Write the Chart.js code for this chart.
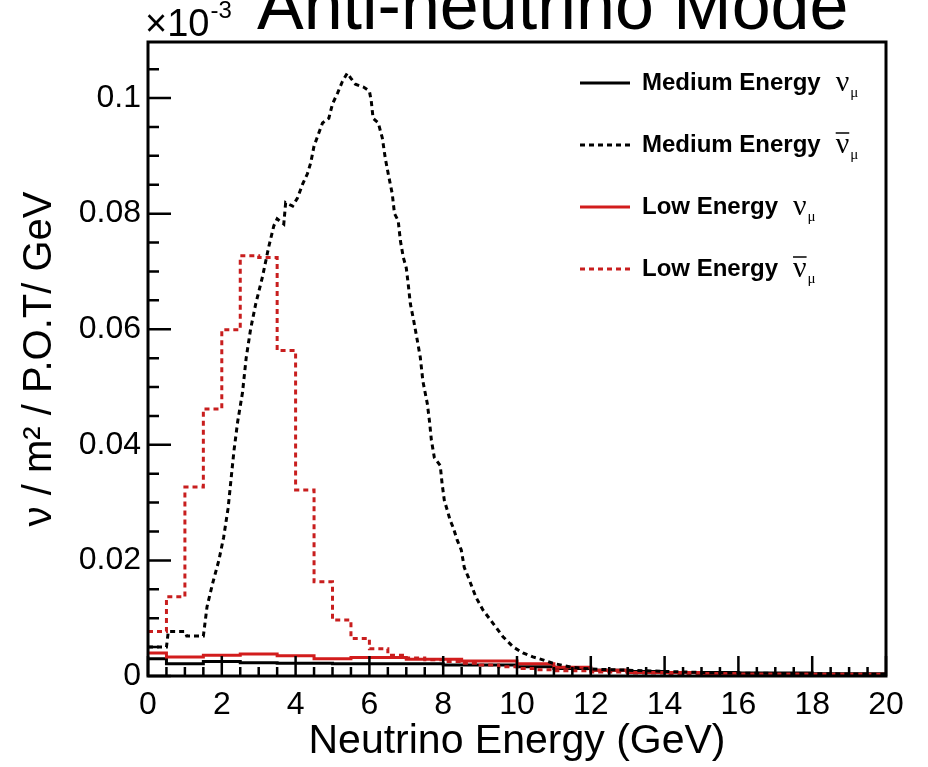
<!DOCTYPE html>
<html>
<head>
<meta charset="utf-8">
<script src="https://cdn.jsdelivr.net/npm/chart.js@4.4.1/dist/chart.umd.min.js"></script>
<style>
  html, body { margin: 0; padding: 0; background: #fff; }
  #wrap { width: 928px; height: 767px; }
</style>
</head>
<body>
<div id="wrap"><canvas id="flux"></canvas></div>
<script>
// flux anti-neutrino mode (unites de l'axe y)

// Medium Energy nu_mu (trait plein noir) - bords de bins + contenu
const meNuEdges = [0, 0.5, 1.5, 2.5, 3.5, 5, 8, 10, 11, 12, 13, 14, 16, 18, 20];
const meNuFlux  = [0.0030, 0.0021, 0.0025, 0.0023, 0.0022, 0.0021, 0.0019, 0.0016, 0.0013, 0.0010, 0.0008, 0.0006, 0.0005, 0.0004];

// Medium Energy anti-nu_mu (pointillé noir), bins fins -> suivi point par point
const meAntiE = [0, 0.5, 0.55, 1.0, 1.05, 1.5, 1.6, 1.75, 1.92, 2.05, 2.17, 2.25, 2.33, 2.43, 2.56, 2.66, 2.78, 2.92,
  3.1, 3.27, 3.41, 3.5, 3.68, 3.73, 3.92, 4.05, 4.19, 4.32, 4.41, 4.5, 4.62, 4.73, 4.9, 5.0, 5.14, 5.27, 5.4, 5.49,
  5.62, 5.84, 6.0, 6.05, 6.1, 6.24, 6.35, 6.43, 6.51, 6.62, 6.68, 6.78, 6.84, 6.92, 7.0, 7.05, 7.11, 7.2, 7.3, 7.38,
  7.45, 7.57, 7.63, 7.68, 7.76, 7.92, 7.97, 8.03, 8.11, 8.19, 8.27, 8.38, 8.49, 8.57, 8.68, 8.78, 8.89, 9.08, 9.35,
  9.62, 9.9, 10.16, 10.43, 10.7, 10.97, 11.5, 12, 13, 14, 15, 16, 18, 20];
const meAntiFlux = [0.0050, 0.0050, 0.0077, 0.0077, 0.0069, 0.0069, 0.0120, 0.0160, 0.0200, 0.0240, 0.0290, 0.0340, 0.0390, 0.0440, 0.0490, 0.0550, 0.0600, 0.0644,
  0.0690, 0.0742, 0.0779, 0.0791, 0.0782, 0.0819, 0.0813, 0.0827, 0.0851, 0.0869, 0.0888, 0.0917, 0.0938, 0.0957, 0.0965, 0.0990, 0.1009, 0.1029, 0.1043, 0.1035,
  0.1024, 0.1019, 0.1012, 0.0995, 0.0965, 0.0957, 0.0931, 0.0896, 0.0869, 0.0834, 0.0800, 0.0788, 0.0753, 0.0724, 0.0706, 0.0679, 0.0644, 0.0615, 0.0580, 0.0551,
  0.0510, 0.0471, 0.0440, 0.0408, 0.0378, 0.0364, 0.0333, 0.0304, 0.0287, 0.0269, 0.0257, 0.0235, 0.0218, 0.0188, 0.0171, 0.0154, 0.0136, 0.0114, 0.0091,
  0.0068, 0.0050, 0.0040, 0.0033, 0.0028, 0.0022, 0.0015, 0.0012, 0.0010, 0.0008, 0.0006, 0.0005, 0.0004, 0.0003];

// Low Energy nu_mu (trait plein rouge)
const leNuEdges = [0, 0.5, 1.5, 2.5, 3.5, 4.5, 5.5, 7, 8.5, 10, 11, 12, 13, 15, 16, 20];
const leNuFlux  = [0.0040, 0.0033, 0.0036, 0.0038, 0.0035, 0.0030, 0.0032, 0.0029, 0.0026, 0.0021, 0.0015, 0.0010, 0.0006, 0.0004, 0.0003];

// Low Energy anti-nu_mu (pointillé rouge), bins de 0.5 GeV
const leAntiEdges = [0, 0.5, 1, 1.5, 2, 2.5, 3, 3.5, 4, 4.5, 5, 5.5, 6, 6.5, 7, 7.5, 8, 8.5, 9, 9.5, 10, 10.5, 11, 12, 13, 14, 16, 18, 20];
const leAntiFlux  = [0.0077, 0.0137, 0.0327, 0.0462, 0.0599, 0.0727, 0.0724, 0.0563, 0.0322, 0.0163, 0.0097, 0.0065, 0.0047, 0.0036,
  0.0031, 0.0028, 0.0025, 0.0022, 0.0019, 0.0016, 0.0013, 0.0011, 0.0009, 0.0007, 0.0005, 0.0004, 0.0003, 0.0002];

const yTickValues = [0, 0.02, 0.04, 0.06, 0.08, 0.1];
const yTickLabels = ['0', '0.02', '0.04', '0.06', '0.08', '0.1'];

const FONT = "'Liberation Sans', Arial, Helvetica, sans-serif";
const RED = '#d21c1c';

// histogramme -> points en escalier (bord bas de chaque bin + bord final)
function histoPoints(edges, vals) {
  const pts = vals.map((v, i) => ({ x: edges[i], y: v }));
  pts.push({ x: edges[edges.length - 1], y: vals[vals.length - 1] });
  return pts;
}

// ticks façon ROOT, cadre, titre, légende
const rootDeco = {
  id: 'rootDeco',
  afterDatasetsDraw(chart) {
    const { ctx, chartArea: a, scales: { x, y } } = chart;
    ctx.save();
    ctx.strokeStyle = '#000';
    ctx.lineWidth = 2.5;
    ctx.beginPath();
    for (let v = 0; v <= 20.001; v += 0.5) {
      const px = x.getPixelForValue(v);
      const len = Math.abs(v % 2) < 1e-6 ? 20 : 9;
      ctx.moveTo(px, a.bottom);
      ctx.lineTo(px, a.bottom - len);
    }
    for (let v = 0; v <= 0.1095; v += 0.005) {
      const py = y.getPixelForValue(v);
      const major = Math.abs(v / 0.02 - Math.round(v / 0.02)) < 1e-6;
      ctx.moveTo(a.left, py);
      ctx.lineTo(a.left + (major ? 23 : 11), py);
    }
    ctx.stroke();
    ctx.lineWidth = 3;
    ctx.strokeRect(a.left, a.top, a.right - a.left, a.bottom - a.top);

    // exposant et titre
    ctx.fillStyle = '#000';
    ctx.textBaseline = 'alphabetic';
    ctx.textAlign = 'left';
    ctx.font = `38px ${FONT}`;
    ctx.fillText('\u00d710', 145, 36);
    const ew = ctx.measureText('\u00d710').width;
    ctx.font = `24px ${FONT}`;
    ctx.fillText('-3', 145 + ew + 1, 18);
    ctx.font = `70px ${FONT}`;
    ctx.fillText('Anti-neutrino Mode', 257, 29);

    // légende
    const items = chart.data.datasets.slice().sort((p, q) => p.legendRank - q.legendRank);
    items.forEach((ds, i) => {
      const ly = 83 + i * 62;
      ctx.strokeStyle = ds.borderColor;
      ctx.lineWidth = 3;
      ctx.setLineDash(ds.borderDash || []);
      ctx.beginPath();
      ctx.moveTo(580, ly);
      ctx.lineTo(630, ly);
      ctx.stroke();
      ctx.setLineDash([]);
      ctx.fillStyle = '#000';
      ctx.font = `bold 24px ${FONT}`;
      ctx.textBaseline = 'middle';
      ctx.fillText(ds.label, 642, ly);
      const nx = 642 + ctx.measureText(ds.label).width + 15;
      ctx.font = `30px 'Liberation Serif', 'DejaVu Serif', serif`;
      ctx.textBaseline = 'alphabetic';
      ctx.fillText('\u03bd', nx, ly + 8);
      const nw = ctx.measureText('\u03bd').width;
      if (ds.anti) {
        ctx.strokeStyle = '#000';
        ctx.lineWidth = 1.5;
        ctx.beginPath();
        ctx.moveTo(nx, ly - 12);
        ctx.lineTo(nx + nw, ly - 12);
        ctx.stroke();
      }
      ctx.font = `15px 'Liberation Serif', 'DejaVu Serif', serif`;
      ctx.fillText('\u03bc', nx + nw + 1, ly + 14);
    });
    ctx.restore();
  }
};

new Chart(document.getElementById('flux'), {
  type: 'line',
  data: {
    datasets: [
      {
        label: 'Medium Energy', anti: true, legendRank: 1, order: 0,
        data: meAntiE.map((e, i) => ({ x: e, y: meAntiFlux[i] })),
        borderColor: '#000', borderWidth: 3, borderDash: [5, 4],
        pointRadius: 0, fill: false, tension: 0,
      },
      {
        label: 'Low Energy', anti: true, legendRank: 3, order: 1,
        data: histoPoints(leAntiEdges, leAntiFlux), stepped: true,
        borderColor: '#c81e1e', borderWidth: 3, borderDash: [5, 4],
        pointRadius: 0, fill: false,
      },
      {
        label: 'Low Energy', anti: false, legendRank: 2, order: 2,
        data: histoPoints(leNuEdges, leNuFlux), stepped: true,
        borderColor: RED, borderWidth: 3,
        pointRadius: 0, fill: false,
      },
      {
        label: 'Medium Energy', anti: false, legendRank: 0, order: 3,
        data: histoPoints(meNuEdges, meNuFlux), stepped: true,
        borderColor: '#000', borderWidth: 3,
        pointRadius: 0, fill: false,
      },
    ],
  },
  options: {
    responsive: true,
    maintainAspectRatio: false,
    animation: false,
    layout: { padding: { top: 42, right: 42, left: 0, bottom: 0 } },
    plugins: {
      legend: { display: false },
      tooltip: { enabled: false },
    },
    scales: {
      x: {
        type: 'linear', min: 0, max: 20,
        grid: { display: false, drawTicks: false },
        border: { display: false },
        ticks: { stepSize: 2, color: '#000', padding: 10, maxRotation: 0, font: { family: FONT, size: 32 } },
        title: { display: true, text: 'Neutrino Energy (GeV)', color: '#000', padding: { top: 0, bottom: 5 },
                 font: { family: FONT, size: 41, lineHeight: 1 } },
        afterFit: (s) => { s.height = 91; },
      },
      y: {
        type: 'linear', min: 0, max: 0.1097,
        grid: { display: false, drawTicks: false },
        border: { display: false },
        afterBuildTicks: (s) => { s.ticks = yTickValues.map(v => ({ value: v })); },
        ticks: {
          color: '#000', padding: 7, font: { family: FONT, size: 32 },
          callback: (v) => yTickLabels[yTickValues.indexOf(v)] ?? '',
        },
        title: { display: true, text: 'ν / m² / P.O.T/ GeV', color: '#000', padding: { top: 20, bottom: 0 },
                 font: { family: FONT, size: 40, lineHeight: 1 } },
        afterFit: (s) => { s.width = 148; },
      },
    },
  },
  plugins: [rootDeco],
});
</script>
</body>
</html>
